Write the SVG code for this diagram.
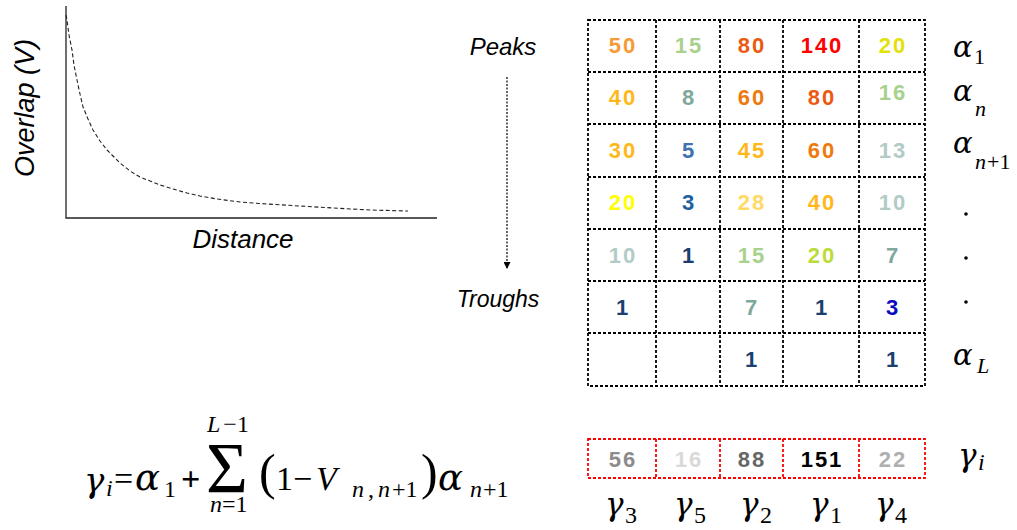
<svg xmlns="http://www.w3.org/2000/svg" width="1017" height="530" viewBox="0 0 1017 530">
<style>
.lbl{font-family:"Liberation Sans",Arial,sans-serif;font-style:italic;fill:#000}
.num{font-family:"Liberation Sans",Arial,sans-serif;font-weight:bold;font-size:22px;letter-spacing:2px;text-anchor:middle}
.m{font-family:"Liberation Serif","Times New Roman",serif;fill:#000}
.mi{font-family:"Liberation Serif","Times New Roman",serif;font-style:italic;fill:#000}
.g{font-family:"DejaVu Serif",serif;font-style:italic;fill:#000}
.it{font-style:italic}
.up{font-style:normal}
.grid{fill:none;stroke:#000;stroke-width:1.8;stroke-dasharray:3 2}
.rgrid{fill:none;stroke:#f00;stroke-width:1.8;stroke-dasharray:3 2}
</style>
<defs>
<marker id="ah" viewBox="0 0 10 10" refX="10" refY="5" markerWidth="7" markerHeight="7" orient="auto" markerUnits="userSpaceOnUse">
<path d="M0,0 L10,5 L0,10 Z" fill="#000"/>
</marker>
</defs>

<g id="chart">
<path d="M66,6 V218 H437" fill="none" stroke="#222" stroke-width="1.3"/>
<polyline points="66,15 67,20 69,35 72,50 74,65 77,80 80,94 83,107 88,119 93,130 100,141 107,150 114,157 120,163 130,171 140,177 150,181 160,185 173,189 187,193 200,196 217,199 240,202 267,204 300,206 333,208 370,210 408,211" fill="none" stroke="#222" stroke-width="1.1" stroke-dasharray="4 2.5" stroke-linejoin="round"/>
<text class="lbl" font-size="27" transform="translate(34,108) rotate(-90)" text-anchor="middle">Overlap (V)</text>
<text class="lbl" font-size="26" x="243" y="248" text-anchor="middle">Distance</text>
</g>

<g id="peaks"><text class="lbl" font-size="24" x="503" y="55" text-anchor="middle">Peaks</text></g>
<g id="troughs"><text class="lbl" font-size="23" x="498" y="307" text-anchor="middle">Troughs</text></g>

<g id="connectors">
<line x1="507" y1="77" x2="507" y2="269" stroke="#000" stroke-width="1.2" stroke-dasharray="2 1.5" marker-end="url(#ah)"/>
</g>

<g id="matrix">
<rect class="grid" x="588" y="20" width="337" height="366"/>
<path class="grid" d="M656,20V386 M720,20V386 M783,20V386 M859,20V386 M588,72H925 M588,124H925 M588,177H925 M588,229H925 M588,281H925 M588,333H925"/>
<text class="num" x="623" y="53" fill="#F79A38">50</text>
<text class="num" x="689" y="53" fill="#A9D18E">15</text>
<text class="num" x="752" y="53" fill="#EC5A12">80</text>
<text class="num" x="822" y="53" fill="#FF0000">140</text>
<text class="num" x="893" y="53" fill="#E2E20A">20</text>

<text class="num" x="623" y="105" fill="#FFB81C">40</text>
<text class="num" x="689" y="105" fill="#7EA89C">8</text>
<text class="num" x="752" y="105" fill="#EE7A0E">60</text>
<text class="num" x="822" y="105" fill="#EC5A12">80</text>
<text class="num" x="893" y="100" fill="#A9D18E">16</text>

<text class="num" x="623" y="158" fill="#FFB81C">30</text>
<text class="num" x="689" y="158" fill="#3F72AF">5</text>
<text class="num" x="752" y="158" fill="#FFB81C">45</text>
<text class="num" x="822" y="158" fill="#EE7A0E">60</text>
<text class="num" x="893" y="158" fill="#B2CBC6">13</text>

<text class="num" x="623" y="210" fill="#FFFF00">20</text>
<text class="num" x="689" y="210" fill="#1C5FA0">3</text>
<text class="num" x="752" y="210" fill="#FFD966">28</text>
<text class="num" x="822" y="210" fill="#FFB81C">40</text>
<text class="num" x="893" y="210" fill="#B2CBC6">10</text>

<text class="num" x="623" y="263" fill="#B2CBC6">10</text>
<text class="num" x="689" y="263" fill="#1B3F6E">1</text>
<text class="num" x="752" y="263" fill="#A9D18E">15</text>
<text class="num" x="822" y="263" fill="#BCDC3A">20</text>
<text class="num" x="893" y="263" fill="#7EA89C">7</text>

<text class="num" x="623" y="315" fill="#1B3F6E">1</text>
<text class="num" x="752" y="315" fill="#7EA89C">7</text>
<text class="num" x="822" y="315" fill="#1B3F6E">1</text>
<text class="num" x="893" y="315" fill="#0A0ABE">3</text>

<text class="num" x="752" y="367" fill="#1B3F6E">1</text>
<text class="num" x="893" y="367" fill="#1B3F6E">1</text>
</g>

<g id="row-labels">
<text class="g" font-size="29" x="953" y="57">α<tspan class="m up" font-size="22" x="974" y="64">1</tspan></text>
<text class="g" font-size="29" x="953" y="101">α<tspan class="mi" font-size="22" x="975" y="116">n</tspan></text>
<text class="g" font-size="29" x="953" y="153">α<tspan class="mi" font-size="22" x="975" y="169">n</tspan><tspan class="m up" font-size="22" x="987" y="169">+1</tspan></text>
<circle cx="966" cy="214" r="1.8" fill="#000"/>
<circle cx="966" cy="258" r="1.8" fill="#000"/>
<circle cx="966" cy="302" r="1.8" fill="#000"/>
<text class="g" font-size="29" x="953" y="365">α<tspan class="mi" font-size="22" x="977" y="373">L</tspan></text>
</g>

<g id="gamma-row">
<rect class="rgrid" x="588" y="439" width="337" height="39"/>
<path class="rgrid" d="M656,439V478 M720,439V478 M783,439V478 M859,439V478"/>
<text class="num" x="623" y="467" fill="#8C8C8C">56</text>
<text class="num" x="689" y="467" fill="#D9D9D9">16</text>
<text class="num" x="752" y="467" fill="#666666">88</text>
<text class="num" x="822" y="467" fill="#000000">151</text>
<text class="num" x="893" y="467" fill="#AFAFAF">22</text>
<text class="g" font-size="31" x="958" y="466">γ<tspan class="mi" font-size="24" x="978" y="470">i</tspan></text>
</g>

<g id="gamma-labels">
<text class="g" font-size="31" x="605" y="515">γ<tspan class="m up" font-size="24" x="625" y="523">3</tspan></text>
<text class="g" font-size="31" x="674" y="515">γ<tspan class="m up" font-size="24" x="694" y="523">5</tspan></text>
<text class="g" font-size="31" x="740" y="515">γ<tspan class="m up" font-size="24" x="760" y="523">2</tspan></text>
<text class="g" font-size="31" x="810" y="515">γ<tspan class="m up" font-size="24" x="830" y="523">1</tspan></text>
<text class="g" font-size="31" x="875" y="515">γ<tspan class="m up" font-size="24" x="895" y="523">4</tspan></text>
</g>

<g id="formula">
<text class="g" font-size="34" x="84" y="492">γ<tspan class="mi" font-size="24" x="106" y="496">i</tspan><tspan class="m up" font-size="34" x="114" y="490">=</tspan><tspan font-size="37" x="135" y="490">α</tspan><tspan class="m up" font-size="24" x="164" y="497">1</tspan><tspan class="m up" font-size="34" font-weight="bold" x="181" y="490">+</tspan></text>
<text class="m" font-size="72" x="206" y="492">Σ</text>
<text class="mi" font-size="24" x="207" y="432">L<tspan class="up" dx="3">−1</tspan></text>
<text class="mi" font-size="24" x="210" y="512">n<tspan class="up">=1</tspan></text>
<text class="m" font-size="50" x="259" y="489" fill="#777">(</text>
<text class="m" font-size="34" x="276" y="490">1−<tspan class="it" x="316">V</tspan><tspan class="it" font-size="24" x="352" y="497">n</tspan><tspan font-size="24" x="368">,</tspan><tspan class="it" font-size="24" x="378">n</tspan><tspan font-size="24" x="392">+1</tspan></text>
<text class="m" font-size="50" x="421" y="489" fill="#777">)</text>
<text class="g" font-size="37" x="438" y="490">α<tspan class="mi" font-size="24" x="470" y="497">n</tspan><tspan class="m up" font-size="24" x="483">+1</tspan></text>
</g>
</svg>
